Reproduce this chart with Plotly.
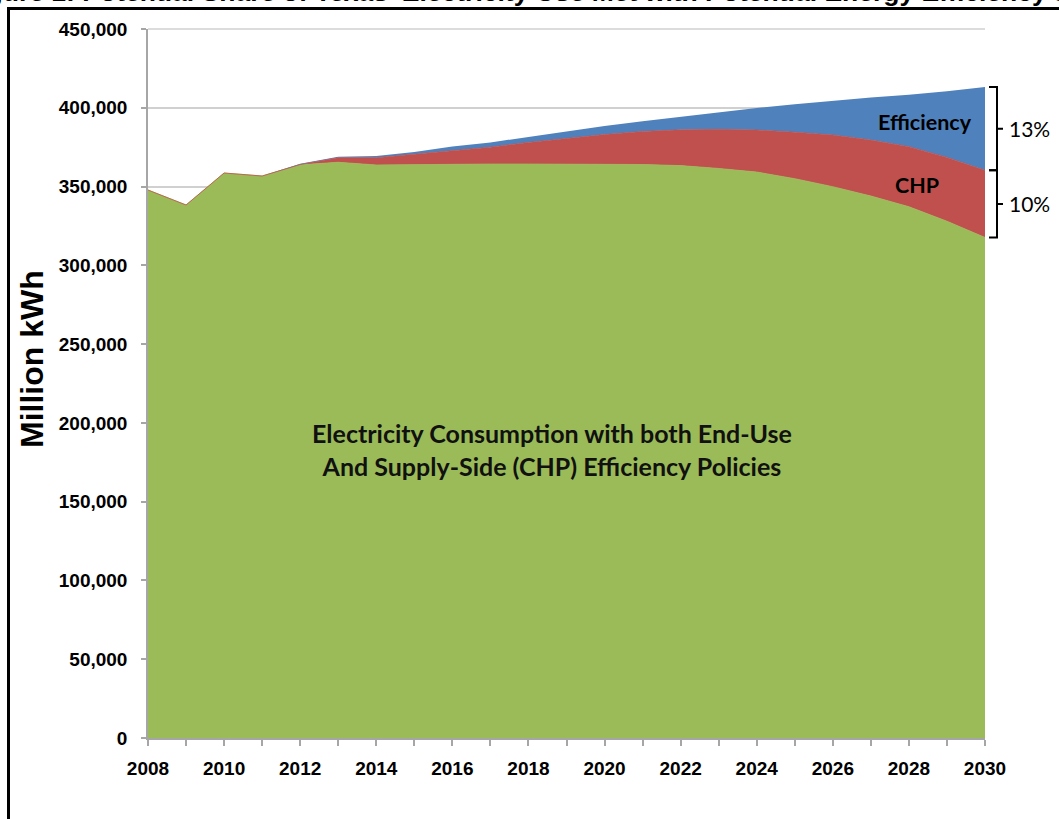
import plotly.graph_objects as go

years = list(range(2008, 2031))
# Electricity consumption with both end-use and CHP policies (million kWh)
consumption = [347800, 338300, 358600, 356700, 363800, 365400, 363700, 364000,
               364200, 364300, 364300, 364300, 364300, 364000, 363300, 361500,
               359200, 355000, 349900, 344000, 337200, 328000, 317700]
# Supply-side (CHP) savings (million kWh)
chp_savings = [0, 0, 0, 0, 200, 2900, 4600, 6500, 8600, 10700, 13700, 16200,
               18700, 21000, 22700, 24800, 26700, 29500, 32800, 35500, 38100,
               40500, 42600]
# End-use efficiency savings (million kWh)
efficiency_savings = [0, 0, 0, 0, 500, 600, 1100, 1500, 2700, 3000, 3500, 4500,
                      5500, 6500, 8300, 10700, 13900, 17700, 21800, 27000, 33000,
                      42000, 52900]

x_tick_labels = [str(y) if y % 2 == 0 else "" for y in years]
pct_labels = ["13%", "10%"]

GREEN = "#9BBB59"
RED = "#C0504D"
BLUE = "#4F81BD"

W, H = 1059, 819
ML, MR, MT, MB = 148, 74, 29, 81
PW, PH = W - ML - MR, H - MT - MB


def px_x(px):
    return (px - ML) / PW


def px_y(py):
    return (H - MB - py) / PH


fig = go.Figure()
fig.add_trace(go.Scatter(x=years, y=consumption, stackgroup="one", mode="lines",
                         line=dict(color=GREEN, width=0.8), fillcolor=GREEN,
                         name="Consumption"))
fig.add_trace(go.Scatter(x=years, y=chp_savings, stackgroup="one", mode="lines",
                         line=dict(color=RED, width=0.8), fillcolor=RED,
                         name="CHP"))
fig.add_trace(go.Scatter(x=years, y=efficiency_savings, stackgroup="one", mode="lines",
                         line=dict(color=BLUE, width=0), fillcolor=BLUE,
                         name="Efficiency"))

tick_font = dict(family="Liberation Sans, Arial", size=19, color="#000000", weight="bold")

fig.update_layout(
    width=W, height=H,
    margin=dict(l=ML, r=MR, t=MT, b=MB),
    paper_bgcolor="white", plot_bgcolor="white",
    showlegend=False,
    xaxis=dict(range=[2008, 2030], tickmode="array", tickvals=years, ticktext=x_tick_labels,
               ticks="outside", ticklen=6, tickcolor="#A6A6A6", tickwidth=1.5,
               showline=True, linecolor="#A6A6A6", linewidth=1.5,
               showgrid=False, zeroline=False, tickfont=tick_font, ticklabelstandoff=6),
    yaxis=dict(range=[0, 450000], dtick=50000, tickformat=",",
               ticks="outside", ticklen=5, tickcolor="#A6A6A6", tickwidth=1.5,
               showline=True, linecolor="#A6A6A6", linewidth=1.5,
               showgrid=True, gridcolor="#D0D0D0", gridwidth=1.5,
               zeroline=False, tickfont=tick_font, ticklabelstandoff=10),
)

# top gridline at 450,000 (at the edge of the range)
fig.add_shape(type="line", xref="paper", yref="paper", x0=0, x1=1, y0=1, y1=1,
              line=dict(color="#D0D0D0", width=1.5), layer="below")

total_end = consumption[-1] + chp_savings[-1] + efficiency_savings[-1]
chp_end = consumption[-1] + chp_savings[-1]
cons_end = consumption[-1]

bx0, bx1, bx2 = px_x(989), px_x(997), px_x(1003)
for top, bot in [(total_end, chp_end), (chp_end, cons_end)]:
    mid = (top + bot) / 2
    path = (f"M {bx0},{top} L {bx1},{top} L {bx1},{bot} L {bx0},{bot} "
            f"M {bx1},{mid} L {bx2},{mid}")
    fig.add_shape(type="path", path=path, xref="paper", yref="y",
                  line=dict(color="black", width=2))

for lbl, (top, bot) in zip(pct_labels, [(total_end, chp_end), (chp_end, cons_end)]):
    fig.add_annotation(x=px_x(1007), y=(top + bot) / 2, xref="paper", yref="y",
                       text=lbl, showarrow=False, xanchor="left", yanchor="middle",
                       font=dict(family="Lato", size=21, color="#000000"))

fig.add_annotation(x=2028.42, y=391000, xref="x", yref="y",
                   text="Efficiency", showarrow=False,
                   font=dict(family="Lato", size=21.5, color="#000000", weight="bold"))
fig.add_annotation(x=2028.21, y=351000, xref="x", yref="y",
                   text="CHP", showarrow=False,
                   font=dict(family="Lato", size=21.5, color="#000000", weight="bold"))

fig.add_annotation(x=2018.62, y=183100, xref="x", yref="y",
                   text="Electricity Consumption with both End-Use<br>And Supply-Side (CHP) Efficiency Policies",
                   showarrow=False, align="center",
                   font=dict(family="Lato", size=25, color="#111111", weight="bold"))

# Y axis title
fig.add_annotation(x=px_x(32), y=px_y(359), xref="paper", yref="paper",
                   text="Million kWh", textangle=-90, showarrow=False,
                   xanchor="center", yanchor="middle",
                   font=dict(family="Liberation Sans, Arial", size=32, color="#000000", weight="bold"))

# Figure title (cropped at the top edge in the original)
fig.add_annotation(x=px_x(-39), y=px_y(9), xref="paper", yref="paper",
                   text="Figure 1: Potential Share of Texas' Electricity Use Met with Potential Energy Efficiency and CHP",
                   showarrow=False, xanchor="left", yanchor="bottom",
                   font=dict(family="Liberation Sans, Arial", size=26.5, color="#000000", weight="bold"))

# Frame around the figure (extends past right and bottom edges)
fig.add_shape(type="rect", xref="paper", yref="paper",
              x0=px_x(8.5), x1=px_x(1200), y0=px_y(1000), y1=px_y(8.5),
              line=dict(color="black", width=3), fillcolor="rgba(0,0,0,0)")

fig.write_html("out.html")
